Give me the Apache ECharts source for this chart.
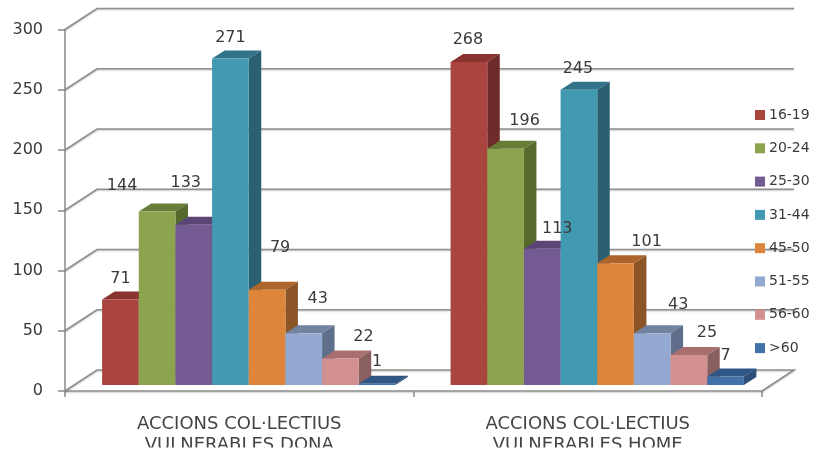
<!DOCTYPE html>
<html><head><meta charset="utf-8">
<style>html,body{margin:0;padding:0;background:#fff}#c{width:813px;height:453px}</style>
<script src="https://cdn.jsdelivr.net/npm/echarts@6/dist/echarts.min.js"></script>
</head><body><div id="c"></div>
<script>
const categories = ['ACCIONS COL·LECTIUS\nVULNERABLES DONA', 'ACCIONS COL·LECTIUS\nVULNERABLES HOME'];
const groups = ['16-19','20-24','25-30','31-44','45-50','51-55','56-60','>60'];
const v1619 = [71, 268];
const v2024 = [144, 196];
const v2530 = [133, 113];
const v3144 = [271, 245];
const v4550 = [79, 101];
const v5155 = [43, 43];
const v5660 = [22, 25];
const vOver60 = [1, 7];
const seriesValues = [v1619, v2024, v2530, v3144, v4550, v5155, v5660, vOver60];
const yTicks = [0, 50, 100, 150, 200, 250, 300];

// style: front, top, side
const palette = [
  ['#A9443F','#8A3431','#6F2B2A'],
  ['#8CA44E','#687D37','#566A2E'],
  ['#735A92','#5B4577','#4E3A66'],
  ['#4299B2','#31748A','#2A6072'],
  ['#DD853B','#AE652B','#8B5527'],
  ['#94A9D1','#71839F','#5F6E8B'],
  ['#D29090','#A96F6F','#8A5F5F'],
  ['#4071A8','#305686','#2D4E77']
];
// label offsets from the bar's top-centre, px (per series, per category)
const labelNudge = [
  [[0,-21],[-1,-22]],
  [[-35,-26],[19,-28]],
  [[-8,-42],[15,-20]],
  [[0,-21],[-1,-21]],
  [[13,-42],[31,-21]],
  [[14,-34],[26,-28]],
  [[23,-22],[18,-22]],
  [[0,-22],[0,-21]]
];
const wallDx = 32, wallDy = -21;   // depth of the chart box
const baseDx = 9.5, baseDy = -6;   // where bars stand on the floor
const barDx = 12.5, barDy = -8;    // depth of a bar
const barFrac = 0.1052;
const gridColor = '#8F8F8F', textColor = '#3A3A3A';
const font = 'DejaVu Sans';
const lineShadow = { shadowColor: 'rgba(0,0,0,0.22)', shadowBlur: 1.5, shadowOffsetY: 1 };

function boxSeries() {
  return {
    type: 'custom', silent: true, z: 1, clip: false, legendHoverLink: false,
    data: yTicks.map(v => [v]),
    encode: { y: 0 },
    renderItem(params, api) {
      const v = api.value(0);
      const a = api.coord([0, v]);
      const cw = api.size([1, 0])[0];
      const x0 = a[0] - cw / 2, x1 = a[0] + cw * 1.5, y = a[1];
      const pts = [[x0, y], [x0 + wallDx, y + wallDy], [x1 + wallDx, y + wallDy]];
      if (v === 0) pts.push([x1, y]);
      return { type: 'polyline', shape: { points: pts },
        style: Object.assign({ stroke: gridColor, lineWidth: 1.6, fill: null }, lineShadow) };
    }
  };
}
function barSeries(name, vals, i) {
  return {
    name, type: 'custom', z: 3, clip: false,
    itemStyle: { color: palette[i][0] },
    data: vals.map((v, c) => [c, v]),
    encode: { x: 0, y: 1 },
    renderItem(params, api) {
      const c = api.value(0), v = api.value(1);
      const bottom = api.coord([c, 0]), top = api.coord([c, v]);
      const w = api.size([1, 0])[0] * barFrac;
      const left = bottom[0] + baseDx + (i - 4) * w;
      const yb = bottom[1] + baseDy, yt = top[1] + baseDy;
      const right = left + w;
      const n = labelNudge[i][c];
      return { type: 'group', children: [
        { type: 'polygon', z2: 1, shape: { points: [[left,yt],[right,yt],[right+barDx,yt+barDy],[left+barDx,yt+barDy]] },
          style: { fill: palette[i][1] } },
        { type: 'polygon', z2: 1, shape: { points: [[right,yt],[right+barDx,yt+barDy],[right+barDx,yb+barDy],[right,yb]] },
          style: { fill: palette[i][2] } },
        { type: 'rect', z2: 2, shape: { x: left, y: yt, width: w, height: yb - yt },
          style: { fill: palette[i][0] } },
        { type: 'text', z2: 50, x: left + w / 2 + n[0], y: yt + n[1],
          style: { text: String(v), fill: textColor, font: '16px "' + font + '"', align: 'center', verticalAlign: 'middle' } }
      ] };
    }
  };
}
const chart = echarts.init(document.getElementById('c'), null, { renderer: 'canvas' });
chart.setOption({
  animation: false,
  backgroundColor: '#fff',
  grid: { left: 65, right: 51, top: 29.5, bottom: 62, outerBoundsMode: 'none' },
  legend: {
    orient: 'vertical', left: 750, top: 103, itemWidth: 10, itemHeight: 10, itemGap: 19.3,
    icon: 'rect', data: groups, z: 10,
    textStyle: { color: textColor, fontFamily: font, fontSize: 14, padding: [0,0,0,-1] }
  },
  xAxis: {
    type: 'category', data: categories,
    axisLine: { lineStyle: Object.assign({ color: gridColor, width: 1.6 }, lineShadow) },
    axisTick: { show: true, length: 6, lineStyle: { color: gridColor, width: 1.6 } },
    axisLabel: { color: '#444', fontFamily: font, fontSize: 18, lineHeight: 21, margin: 23, interval: 0 },
    splitLine: { show: false }
  },
  yAxis: {
    type: 'value', min: 0, max: 300, interval: 50,
    axisLine: { show: true, lineStyle: { color: gridColor, width: 1.6 } },
    axisTick: { show: true, length: 7, lineStyle: { color: gridColor, width: 1.6 } },
    axisLabel: { color: textColor, fontFamily: font, fontSize: 16, margin: 22 },
    splitLine: { show: false }
  },
  // the reference picture is cropped just under the second label line
  graphic: [{ type: 'rect', z: 100, left: 0, top: 447.5, shape: { width: 813, height: 6 }, style: { fill: '#fff' } }],
  series: [boxSeries()].concat(groups.map((g, i) => barSeries(g, seriesValues[i], i)))
});
</script></body></html>
